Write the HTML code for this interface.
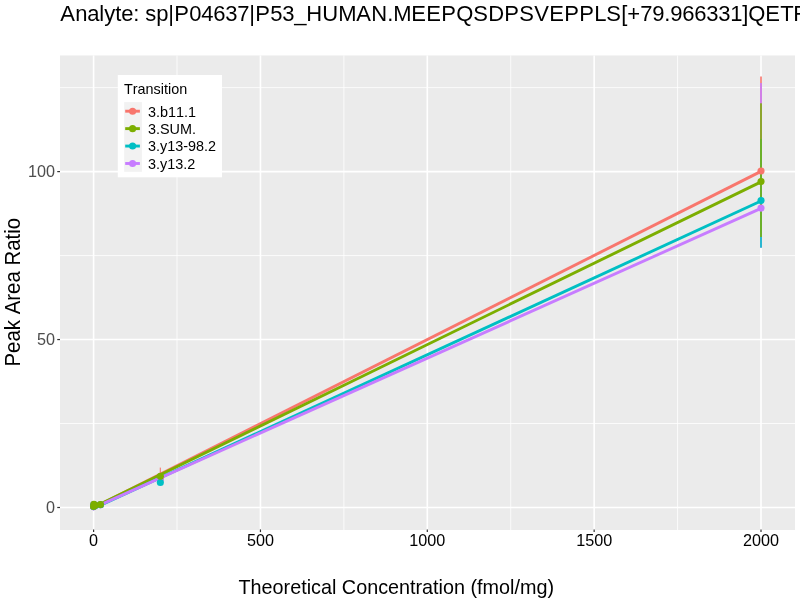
<!DOCTYPE html>
<html><head><meta charset="utf-8"><title>plot</title>
<style>
html,body{margin:0;padding:0;background:#fff;}
body{width:800px;height:600px;overflow:hidden;}
svg{display:block;will-change:transform;}
text{font-family:"Liberation Sans",sans-serif;font-kerning:none;}
</style></head><body>
<svg width="800" height="600" viewBox="0 0 800 600">
<rect x="0" y="0" width="800" height="600" fill="#ffffff"/>
<rect x="60" y="55.45" width="735" height="474.55" fill="#EBEBEB"/>
<g stroke="#ffffff" stroke-width="0.8" fill="none">
<line x1="177.02" y1="55.45" x2="177.02" y2="530"/>
<line x1="343.88" y1="55.45" x2="343.88" y2="530"/>
<line x1="510.73" y1="55.45" x2="510.73" y2="530"/>
<line x1="677.58" y1="55.45" x2="677.58" y2="530"/>
<line x1="60" y1="423.52" x2="795" y2="423.52"/>
<line x1="60" y1="255.57" x2="795" y2="255.57"/>
<line x1="60" y1="87.62" x2="795" y2="87.62"/>
</g>
<g stroke="#ffffff" stroke-width="1.6" fill="none">
<line x1="93.60" y1="55.45" x2="93.60" y2="530"/>
<line x1="260.45" y1="55.45" x2="260.45" y2="530"/>
<line x1="427.30" y1="55.45" x2="427.30" y2="530"/>
<line x1="594.15" y1="55.45" x2="594.15" y2="530"/>
<line x1="761.00" y1="55.45" x2="761.00" y2="530"/>
<line x1="60" y1="507.50" x2="795" y2="507.50"/>
<line x1="60" y1="339.55" x2="795" y2="339.55"/>
<line x1="60" y1="171.60" x2="795" y2="171.60"/>
</g>
<rect x="760.00" y="76.5" width="2" height="62.40" fill="#F8766D" fill-opacity="0.8"/>
<rect x="760.00" y="83.0" width="2" height="164.70" fill="#C77CFF" fill-opacity="0.8"/>
<rect x="760.00" y="138.9" width="2" height="108.80" fill="#00BFC4" fill-opacity="0.8"/>
<rect x="760.00" y="103.3" width="2" height="133.70" fill="#7CAE00" fill-opacity="0.8"/>
<rect x="159.74" y="467.6" width="1.2" height="12" fill="#F8766D" fill-opacity="0.9"/>
<g fill="none" stroke-width="2.9" stroke-linecap="butt">
<line x1="93.6" y1="507.7" x2="761.0" y2="171.35" stroke="#F8766D"/>
<line x1="93.6" y1="507.3" x2="761.0" y2="181.85" stroke="#7CAE00"/>
<line x1="93.6" y1="508.5" x2="761.0" y2="201.0" stroke="#00BFC4"/>
<line x1="93.6" y1="507.9" x2="761.0" y2="208.4" stroke="#C77CFF"/>
</g>
<circle cx="93.60" cy="506.8" r="3.55" fill="#F8766D"/>
<circle cx="93.90" cy="504.6" r="3.55" fill="#F8766D"/>
<circle cx="95.10" cy="505.5" r="3.55" fill="#F8766D"/>
<circle cx="100.45" cy="504.7" r="3.55" fill="#F8766D"/>
<circle cx="160.34" cy="478.6" r="3.55" fill="#F8766D"/>
<circle cx="761.00" cy="171.05" r="3.55" fill="#F8766D"/>
<circle cx="93.60" cy="506.9" r="3.55" fill="#C77CFF"/>
<circle cx="93.90" cy="504.6" r="3.55" fill="#C77CFF"/>
<circle cx="95.10" cy="505.5" r="3.55" fill="#C77CFF"/>
<circle cx="100.45" cy="504.7" r="3.55" fill="#C77CFF"/>
<circle cx="160.34" cy="479.0" r="3.55" fill="#C77CFF"/>
<circle cx="761.00" cy="208.1" r="3.55" fill="#C77CFF"/>
<circle cx="93.60" cy="506.6" r="3.55" fill="#00BFC4"/>
<circle cx="93.90" cy="504.6" r="3.55" fill="#00BFC4"/>
<circle cx="95.10" cy="505.5" r="3.55" fill="#00BFC4"/>
<circle cx="100.45" cy="504.7" r="3.55" fill="#00BFC4"/>
<circle cx="160.34" cy="482.5" r="3.55" fill="#00BFC4"/>
<circle cx="761.00" cy="200.5" r="3.55" fill="#00BFC4"/>
<circle cx="93.60" cy="506.5" r="3.55" fill="#7CAE00"/>
<circle cx="93.90" cy="504.4" r="3.55" fill="#7CAE00"/>
<circle cx="95.10" cy="505.3" r="3.55" fill="#7CAE00"/>
<circle cx="100.45" cy="504.5" r="3.55" fill="#7CAE00"/>
<circle cx="160.34" cy="476.25" r="3.55" fill="#7CAE00"/>
<circle cx="761.00" cy="181.55" r="3.55" fill="#7CAE00"/>
<g stroke="#333333" stroke-width="1.2" fill="none">
<line x1="93.60" y1="529.4" x2="93.60" y2="532.1"/>
<line x1="260.45" y1="529.4" x2="260.45" y2="532.1"/>
<line x1="427.30" y1="529.4" x2="427.30" y2="532.1"/>
<line x1="594.15" y1="529.4" x2="594.15" y2="532.1"/>
<line x1="761.00" y1="529.4" x2="761.00" y2="532.1"/>
<line x1="57.25" y1="507.50" x2="60" y2="507.50"/>
<line x1="57.25" y1="339.55" x2="60" y2="339.55"/>
<line x1="57.25" y1="171.60" x2="60" y2="171.60"/>
</g>
<text x="93.60" y="545.7" font-size="16.2" text-anchor="middle" fill="#000000">0</text>
<text x="260.45" y="545.7" font-size="16.2" text-anchor="middle" fill="#000000">500</text>
<text x="427.30" y="545.7" font-size="16.2" text-anchor="middle" fill="#000000">1000</text>
<text x="594.15" y="545.7" font-size="16.2" text-anchor="middle" fill="#000000">1500</text>
<text x="761.00" y="545.7" font-size="16.2" text-anchor="middle" fill="#000000">2000</text>
<text x="55.0" y="513.20" font-size="16.2" text-anchor="end" fill="#4D4D4D">0</text>
<text x="55.0" y="345.25" font-size="16.2" text-anchor="end" fill="#4D4D4D">50</text>
<text x="55.0" y="177.30" font-size="16.2" text-anchor="end" fill="#4D4D4D">100</text>
<text transform="translate(0,20.8) scale(1,1.03)" x="60.2 75.2 87.2 99.2 104.2 115.2 121.2 133.2 139.2 145.2 156.2 168.2 174.2 189.2 201.2 213.2 225.2 237.2 249.2 255.2 270.2 282.2 294.2 306.2 322.2 338.2 356.2 371.2 387.2 393.2 411.2 426.2 441.2 456.2 473.2 488.2 504.2 519.2 534.2 549.2 564.2 579.2 594.2 606.2 621.2 627.2 640.2 652.2 664.2 670.2 682.2 694.2 706.2 718.2 730.2 742.2 748.2 765.2 780.2 793.2 806.2 821.2 837.2 849.2 870.2" y="0" font-size="22" fill="#000000">Analyte: sp|P04637|P53_HUMAN.MEEPQSDPSVEPPLS[+79.966331]QETFSDLWK</text>
<text transform="translate(0,593.6) scale(1,1.0)" x="238.5" y="0" font-size="19.8" fill="#000000">Theoretical Concentration (fmol/mg)</text>
<text transform="translate(20.0,366.5) rotate(-90) scale(1,1.06)" font-size="20.4" fill="#000000">Peak Area Ratio</text>
<rect x="117.8" y="75" width="104.2" height="102.3" fill="#ffffff"/>
<text x="124.0" y="94.0" font-size="14.4" fill="#000000">Transition</text>
<rect x="124.2" y="102.1" width="17.7" height="69.72" fill="#F2F2F2"/>
<line x1="125.2" y1="111.20" x2="139.9" y2="111.20" stroke="#F8766D" stroke-width="2.9"/>
<circle cx="132.6" cy="111.20" r="3.55" fill="#F8766D"/>
<text x="148.0" y="116.70" font-size="14.4" fill="#000000">3.b11.1</text>
<line x1="125.2" y1="128.63" x2="139.9" y2="128.63" stroke="#7CAE00" stroke-width="2.9"/>
<circle cx="132.6" cy="128.63" r="3.55" fill="#7CAE00"/>
<text x="148.0" y="134.00" font-size="14.4" fill="#000000">3.SUM.</text>
<line x1="125.2" y1="146.06" x2="139.9" y2="146.06" stroke="#00BFC4" stroke-width="2.9"/>
<circle cx="132.6" cy="146.06" r="3.55" fill="#00BFC4"/>
<text x="148.0" y="151.30" font-size="14.4" fill="#000000">3.y13-98.2</text>
<line x1="125.2" y1="163.49" x2="139.9" y2="163.49" stroke="#C77CFF" stroke-width="2.9"/>
<circle cx="132.6" cy="163.49" r="3.55" fill="#C77CFF"/>
<text x="148.0" y="168.60" font-size="14.4" fill="#000000">3.y13.2</text>
</svg></body></html>
